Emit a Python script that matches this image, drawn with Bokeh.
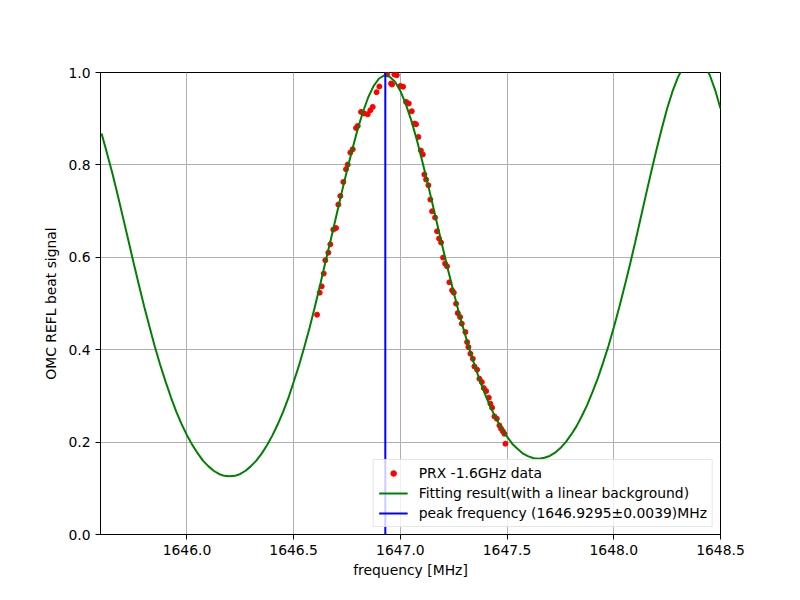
from bokeh.plotting import figure
from bokeh.models import FixedTicker, PrintfTickFormatter
from bokeh.embed import file_html
from bokeh.resources import INLINE

# ---- measured data (PRX -1.6GHz) ----
data_f = [1646.9376, 1646.9719, 1646.9831, 1646.9564, 1646.9611, 1647.0000, 1647.0127,
          1646.9015, 1646.8884, 1646.8706, 1646.8594, 1646.8472, 1646.8312, 1646.8158,
          1646.8003, 1646.7923, 1646.7768, 1646.7656, 1646.7534, 1646.7454, 1646.7328,
          1646.7187, 1646.7093, 1646.6985, 1646.6859, 1646.6718, 1646.6624, 1646.6484,
          1646.6409, 1646.6315, 1646.6221, 1646.6095,
          1647.0267, 1647.0394, 1647.0534, 1647.0656, 1647.0736, 1647.0844, 1647.0961,
          1647.1050, 1647.1125, 1647.1205, 1647.1313, 1647.1406, 1647.1486, 1647.1627,
          1647.1721, 1647.1814, 1647.1908, 1647.2002, 1647.2096, 1647.2189, 1647.2297,
          1647.2424, 1647.2504, 1647.2611, 1647.2691, 1647.2799, 1647.2879, 1647.3047,
          1647.3127, 1647.3188, 1647.3282, 1647.3394, 1647.3469, 1647.3596, 1647.3704,
          1647.3816, 1647.3910, 1647.4018, 1647.4144, 1647.4219, 1647.4299, 1647.4407,
          1647.4519, 1647.4641, 1647.4721, 1647.4801, 1647.4876, 1647.4923]
data_v = [0.9963, 0.9957, 0.9942, 0.9762, 0.9740, 0.9710, 0.9692,
          0.9697, 0.9573, 0.9255, 0.9184, 0.9097, 0.9112, 0.9147,
          0.8843, 0.8800, 0.8339, 0.8267, 0.8007, 0.7906, 0.7631,
          0.7327, 0.7141, 0.6634, 0.6600, 0.6281, 0.6101, 0.5935,
          0.5647, 0.5371, 0.5235, 0.4758,
          0.9363, 0.9329, 0.9162, 0.8895, 0.8880, 0.8605, 0.8311,
          0.8226, 0.7793, 0.7683, 0.7559, 0.7249, 0.6996, 0.6859,
          0.6563, 0.6405, 0.6318, 0.5993, 0.5863, 0.5805, 0.5458,
          0.5285, 0.5235, 0.4997, 0.4793, 0.4707, 0.4564, 0.4382,
          0.4165, 0.4057, 0.3914, 0.3805, 0.3639, 0.3567, 0.3372,
          0.3299, 0.3169, 0.3104, 0.2961, 0.2831, 0.2744, 0.2556,
          0.2506, 0.2361, 0.2289, 0.2237, 0.2181, 0.1965]

# ---- fitting result ----
fit_f = [1645.600, 1645.625, 1645.650, 1645.675, 1645.700, 1645.725, 1645.750, 1645.775,
         1645.800, 1645.825, 1645.850, 1645.875, 1645.900, 1645.925, 1645.950, 1645.975,
         1646.000, 1646.025, 1646.050, 1646.075, 1646.100, 1646.125, 1646.150, 1646.175,
         1646.200, 1646.225, 1646.250, 1646.275, 1646.300, 1646.325, 1646.350, 1646.375,
         1646.400, 1646.425, 1646.450, 1646.475, 1646.500, 1646.525, 1646.550, 1646.575,
         1646.600, 1646.625, 1646.650, 1646.675, 1646.700, 1646.725, 1646.750, 1646.775,
         1646.800, 1646.825, 1646.850, 1646.875, 1646.900, 1646.925, 1646.950, 1646.975,
         1647.000, 1647.025, 1647.050, 1647.075, 1647.100, 1647.125, 1647.150, 1647.175,
         1647.200, 1647.225, 1647.250, 1647.275, 1647.300, 1647.325, 1647.350, 1647.375,
         1647.400, 1647.425, 1647.450, 1647.475, 1647.500, 1647.525, 1647.550, 1647.575,
         1647.600, 1647.625, 1647.650, 1647.675, 1647.700, 1647.725, 1647.750, 1647.775,
         1647.800, 1647.825, 1647.850, 1647.875, 1647.900, 1647.925, 1647.950, 1647.975,
         1648.000, 1648.025, 1648.050, 1648.075, 1648.100, 1648.125, 1648.150, 1648.175,
         1648.200, 1648.225, 1648.250, 1648.275, 1648.300, 1648.325, 1648.350, 1648.375,
         1648.400, 1648.425, 1648.450, 1648.475, 1648.500]
fit_v = [0.868, 0.826, 0.783, 0.736, 0.687, 0.638, 0.588, 0.540,
         0.493, 0.449, 0.406, 0.367, 0.331, 0.297, 0.266, 0.239,
         0.215, 0.194, 0.176, 0.160, 0.148, 0.138, 0.131, 0.127,
         0.126, 0.127, 0.131, 0.138, 0.148, 0.160, 0.175, 0.193,
         0.214, 0.238, 0.265, 0.295, 0.330, 0.366, 0.406, 0.448,
         0.494, 0.542, 0.592, 0.640, 0.690, 0.740, 0.788, 0.834,
         0.877, 0.915, 0.947, 0.971, 0.987, 0.994, 0.991, 0.980,
         0.960, 0.932, 0.898, 0.858, 0.813, 0.766, 0.717, 0.667,
         0.618, 0.570, 0.524, 0.479, 0.438, 0.399, 0.363, 0.330,
         0.300, 0.273, 0.250, 0.229, 0.212, 0.196, 0.185, 0.175,
         0.169, 0.165, 0.164, 0.166, 0.170, 0.177, 0.187, 0.200,
         0.216, 0.234, 0.256, 0.280, 0.308, 0.338, 0.372, 0.408,
         0.448, 0.491, 0.536, 0.583, 0.632, 0.683, 0.734, 0.784,
         0.833, 0.879, 0.922, 0.959, 0.989, 1.012, 1.027, 1.032,
         1.028, 1.015, 0.994, 0.962, 0.922]

# ---- peak frequency ----
peak_f = [1646.9295, 1646.9295]
peak_y = [0.0, 1.0]

x_ticks = [1646.0, 1646.5, 1647.0, 1647.5, 1648.0, 1648.5]
y_ticks = [0.0, 0.2, 0.4, 0.6, 0.8, 1.0]

FONT = "DejaVu Sans"
FS = "13.9px"

p = figure(width=784, height=584, x_range=(1645.595, 1648.5), y_range=(0.0, 1.0),
           output_backend="svg", toolbar_location=None,
           min_border_left=100, min_border_right=64, min_border_top=72, min_border_bottom=50)

p.background_fill_color = "white"
p.border_fill_color = "white"
p.outline_line_color = "black"
p.outline_line_width = 1

for ax in (p.xaxis[0], p.yaxis[0]):
    ax.axis_line_color = "black"
    ax.major_tick_line_color = "black"
    ax.major_tick_out = 5
    ax.major_tick_in = 0
    ax.minor_tick_line_color = None
    ax.major_label_text_font = FONT
    ax.major_label_text_font_size = FS
    ax.major_label_text_color = "black"
    ax.axis_label_text_font = FONT
    ax.axis_label_text_font_size = FS
    ax.axis_label_text_font_style = "normal"
    ax.axis_label_text_color = "black"
    ax.formatter = PrintfTickFormatter(format="%.1f")

p.xaxis.ticker = FixedTicker(ticks=x_ticks)
p.yaxis.ticker = FixedTicker(ticks=y_ticks)
p.xaxis.axis_label = "frequency [MHz]"
p.yaxis.axis_label = "OMC REFL beat signal"
p.xaxis.axis_label_standoff = 4
p.yaxis.axis_label_standoff = 6

p.grid.grid_line_color = "#b0b0b0"
p.grid.grid_line_width = 1

p.scatter(data_f, data_v, size=5, color="#ff0000", line_color="#ff0000",
          legend_label="PRX -1.6GHz data")
p.line(fit_f, fit_v, line_color="#008000", line_width=2,
       legend_label="Fitting result(with a linear background)")
p.line(peak_f, peak_y, line_color="#0000ff", line_width=2,
       legend_label="peak frequency (1646.9295\u00b10.0039)MHz")

lg = p.legend[0]
lg.location = "bottom_right"
lg.margin = 7
lg.padding = 5
lg.spacing = 4
lg.glyph_width = 29
lg.glyph_height = 14
lg.label_height = 14
lg.label_standoff = 11
lg.label_text_font = FONT
lg.label_text_font_size = FS
lg.label_text_color = "black"
lg.border_line_color = "#cccccc"
lg.border_line_width = 1
lg.background_fill_color = "white"
lg.background_fill_alpha = 0.8

open("out.html", "w").write(file_html(p, INLINE))
